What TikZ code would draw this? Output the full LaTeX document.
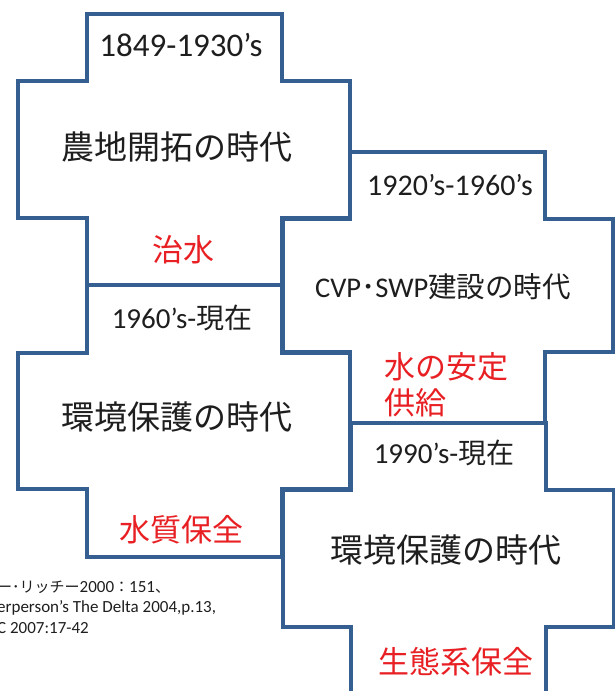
\documentclass[tikz,border=0pt]{standalone}
\usepackage{fontspec}
\setmainfont{Carlito}
\newfontfamily\jp{Noto Sans CJK JP}
\definecolor{rim}{RGB}{54,95,145}
\definecolor{alert}{RGB}{232,32,36}
\definecolor{ink}{RGB}{30,30,30}

\begin{document}
\begin{tikzpicture}[x=1pt, y=-1pt, era/.style = {draw=rim, line width=3.2pt, fill=white}, date/.style = {text=ink, font=\fontsize{29}{33}\selectfont}, title/.style = {text=ink, font=\jp\fontsize{33}{36}\selectfont}, goal/.style = {text=alert, font=\jp\fontsize{31}{36}\selectfont, align=left}, source/.style = {text=ink, font=\fontsize{17}{20.5}\selectfont, align=left, inner sep=0pt}]
                \clip (0,0) rectangle (615,691);
                \draw[era] (87,14) -- (282,14) -- (282,81) -- (350,81) -- (350,218) -- (282,218) -- (282,285) -- (87,285) -- (87,218) -- (18,218) -- (18,81) -- (87,81) -- cycle;
                \draw[era] (350,152) -- (545,152) -- (545,219) -- (613,219) -- (613,352) -- (545,352) -- (545,423) -- (350,423) -- (350,352) -- (283,352) -- (283,219) -- (350,219) -- cycle;
                \draw[era] (87,285) -- (282,285) -- (282,353) -- (350,353) -- (350,489) -- (282,489) -- (282,557) -- (87,557) -- (87,489) -- (18,489) -- (18,353) -- (87,353) -- cycle;
                \draw[era] (351,423) -- (546,423) -- (546,490) -- (614,490) -- (614,627) -- (546,627) -- (546,700) -- (351,700) -- (351,627) -- (283,627) -- (283,490) -- (351,490) -- cycle;
                \node[date, font=\fontsize{33}{36}\selectfont] (d1) at (181,45) {1849-1930’s};
                \node[title] (t1) at (177,147) {農地開拓の時代};
                \node[goal] (g1) at (183,250) {治水};
                \node[date, font=\fontsize{30}{33}\selectfont] (d2) at (450,185) {1920’s-1960’s};
                \node[title, font=\fontsize{28.5}{32}\selectfont] (t2) at (443,287) {CVP{\jp ･}SWP{\jp 建設の時代}};
                \node[goal, anchor=west] (g2) at (381,385) {水の安定\\供給};
                \node[date] (d3) at (182,318) {1960’s-{\jp\fontsize{28}{33}\selectfont 現在}};
                \node[title] (t3) at (177,417) {環境保護の時代};
                \node[goal] (g3) at (181,530) {水質保全};
                \node[date] (d4) at (444,453) {1990’s-{\jp\fontsize{28}{33}\selectfont 現在}};
                \node[title] (t4) at (446,550) {環境保護の時代};
                \node[goal] (g4) at (456,662) {生態系保全};
                \node[source, anchor=west] (src) at (-3,607) {{\jp\fontsize{15}{20.5}\selectfont ー･リッチー}2000{\jp\fontsize{15}{20.5}\selectfont ：}151{\jp\fontsize{15}{20.5}\selectfont 、}\\erperson's The Delta 2004,p.13,\\C 2007:17-42};
            \end{tikzpicture}
\end{document}
